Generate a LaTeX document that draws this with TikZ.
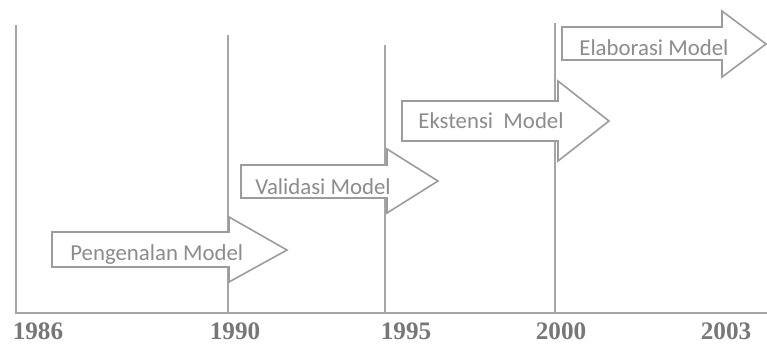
\documentclass[tikz,border=0pt]{standalone}
\usepackage{fontspec}
\setmainfont{Carlito}
\newfontfamily\yearfont{Liberation Serif}
\usepackage{tikz}

\definecolor{linegray}{HTML}{A6A6A6}
\definecolor{boxgray}{HTML}{9C9C9C}
\definecolor{textgray}{HTML}{8C8C8C}
\definecolor{yeargray}{HTML}{777777}

\tikzset{
  tick/.style={linegray, line width=0.9pt},
  blockarrow/.style={boxgray, line width=0.8pt, fill=white, line join=miter},
  lbl/.style={textgray, anchor=base west, inner sep=0pt, font=\fontsize{11.4}{13}\selectfont},
  yr/.style={yeargray, inner sep=0pt, font=\yearfont\bfseries\fontsize{12.6}{14}\selectfont}
}

\begin{document}
\begin{tikzpicture}[x=0.5pt, y=-0.5pt]
\useasboundingbox (0,0) rectangle (767,344);

% time axis and the year marks
\coordinate (axisL) at (15,313);
\coordinate (axisR) at (767,313);
\draw[tick] (axisL) -- (axisR);

\coordinate (top1986) at (16,25);
\coordinate (top1990) at (228,35);
\coordinate (top1995) at (385,45);
\coordinate (top2000) at (555,23);
\draw[tick] (top1986) -- (top1986 |- axisL);
\draw[tick] (top1990) -- (top1990 |- axisL);
\draw[tick] (top1995) -- (top1995 |- axisL);
\draw[tick] (top2000) -- (top2000 |- axisL);

\node[yr] (y1986) at (38,331) {1986};
\node[yr] (y1990) at (235,331) {1990};
\node[yr] (y1995) at (406,331) {1995};
\node[yr] (y2000) at (561,331) {2000};
\node[yr] (y2003) at (726,331) {2003};

% the four stages as block arrows
\draw[blockarrow] (52,232) -- (229,232) -- (229,217) -- (287,250)
  -- (229,282) -- (229,267) -- (52,267) -- cycle;
\node[lbl] (pengenalan) at (70,260) {Pengenalan Model};

\draw[blockarrow] (241,165) -- (387,165) -- (387,149) -- (438,181)
  -- (387,213) -- (387,198) -- (241,198) -- cycle;
\node[lbl] (validasi) at (255,194) {Validasi Model};

\draw[blockarrow] (402,101) -- (558,101) -- (558,81) -- (609,121)
  -- (558,161) -- (558,141) -- (402,141) -- cycle;
\node[lbl] (ekstensi) at (418,128) {Ekstensi\ \ Model};

\draw[blockarrow] (562,27) -- (722,27) -- (722,11) -- (766,44)
  -- (722,77) -- (722,60) -- (562,60) -- cycle;
\node[lbl] (elaborasi) at (579,55) {Elaborasi Model};

\end{tikzpicture}
\end{document}
